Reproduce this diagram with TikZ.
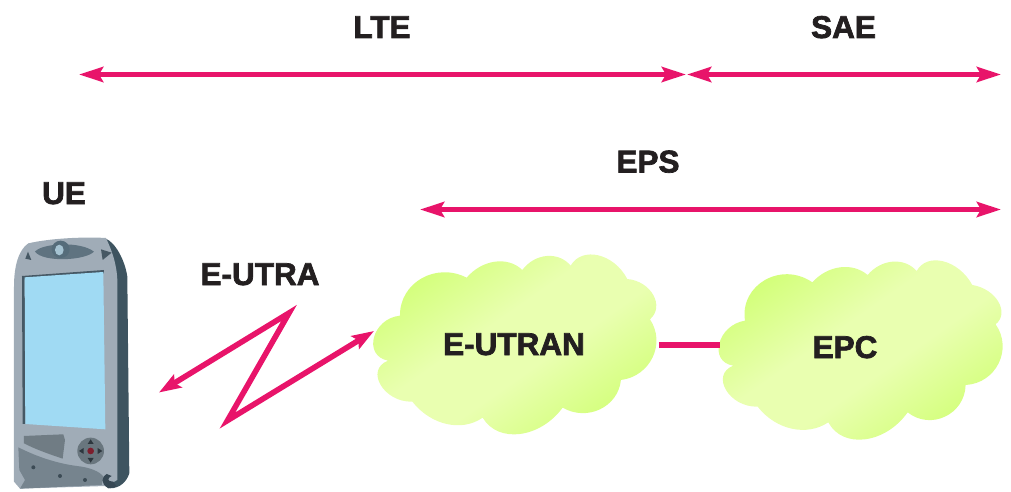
\documentclass[tikz,border=0pt]{standalone}
\usepackage{fontspec}
\usetikzlibrary{arrows.meta}
\newfontfamily\labfont[BoldFeatures={FakeBold=2.2}]{Liberation Sans}
\definecolor{pinkline}{HTML}{E8146A}
\definecolor{labink}{HTML}{231F20}
\definecolor{clouddk}{HTML}{D2FF78}
\definecolor{cloudlt}{HTML}{E9FFB0}
\pgfdeclareverticalshading{cloudshade}{100bp}{color(0bp)=(clouddk); color(26bp)=(clouddk); color(44bp)=(cloudlt); color(56bp)=(cloudlt); color(74bp)=(clouddk); color(100bp)=(clouddk)}
% fraction of the chord by which the control points lean forward, for a round arc
\def\frc#1#2#3#4#5#6{((1-4*(((#3-(#1+#5)/2)/100)^2+((#4-(#2+#6)/2)/100)^2)/(((#1-#5)/100)^2+((#2-#6)/100)^2))/3)}
% bump: from (x0,y0) through (mx,my) to (x3,y3)
\def\bmp#1#2#3#4#5#6{.. controls ({#1+1.3333*(#3-(#1+#5)/2)+\frc{#1}{#2}{#3}{#4}{#5}{#6}*(#5-#1)},{#2+1.3333*(#4-(#2+#6)/2)+\frc{#1}{#2}{#3}{#4}{#5}{#6}*(#6-#2)}) and ({#5+1.3333*(#3-(#1+#5)/2)+\frc{#1}{#2}{#3}{#4}{#5}{#6}*(#1-#5)},{#6+1.3333*(#4-(#2+#6)/2)+\frc{#1}{#2}{#3}{#4}{#5}{#6}*(#2-#6)}) .. (#5,#6)}
\tikzset{
  lab/.style={font=\labfont\bfseries\fontsize{31.5}{32}\selectfont,text=labink,inner sep=0pt,anchor=base},
  span/.style={draw=pinkline,line width=5.8pt,{Stealth[length=24pt,width=15pt,inset=4pt]}-{Stealth[length=24pt,width=15pt,inset=4pt]}},
  bolt/.style={draw=pinkline,line width=5.6pt,line join=miter,miter limit=12,{Stealth[length=22pt,width=15pt,inset=4pt]}-{Stealth[length=22pt,width=15pt,inset=4pt]}},
  link/.style={draw=pinkline,line width=5.4pt},
  cloudfill/.style={shading=cloudshade,shading angle=35}
}
\begin{document}
\begin{tikzpicture}[x=1pt,y=-1pt]
\useasboundingbox (0,0) rectangle (1011,492);
% phone
\begin{scope}[shift={(0,220)},x=0.3333pt,y=-0.3333pt]
  \fill[fill={rgb,255:red,62;green,84;blue,96}] (315,55) .. controls (345,65) and (375,120) .. (382,170) -- (388,760) .. controls (380,785) and (360,805) .. (330,805) -- (300,790) -- cycle;
  \fill[fill={rgb,255:red,160;green,172;blue,183}] (85,70) .. controls (150,55) and (250,50) .. (318,54) .. controls (335,90) and (350,130) .. (352,180) -- (352,780) -- (320,798) -- (60,806) -- (42,785) -- (42,200) .. controls (42,140) and (55,90) .. (85,70) -- cycle;
  \fill[fill={rgb,255:red,70;green,88;blue,100}] (66,168) -- (312,150) -- (312,160) -- (74,178) -- (76,612) -- (68,612) -- cycle;
  \fill[fill={rgb,255:red,160;green,218;blue,243}] (74,172) -- (310,156) -- (316,628) -- (76,612) -- cycle;
  \fill[fill={rgb,255:red,95;green,115;blue,128}] (105,95) .. controls (125,70) and (240,62) .. (282,95) .. controls (255,122) and (130,128) .. (105,95) -- cycle;
  \fill[fill={rgb,255:red,85;green,108;blue,122}] (182,88) ellipse [x radius=27,y radius=26];
  \fill[fill={rgb,255:red,165;green,195;blue,210}] (178,90) ellipse [x radius=13,y radius=16];
  \fill[fill={rgb,255:red,70;green,88;blue,100}] (84,95) -- (94,120) -- (76,116) -- cycle;
  \fill[fill={rgb,255:red,70;green,88;blue,100}] (303,88) -- (335,98) -- (308,120) -- cycle;
  \fill[fill={rgb,255:red,112;green,124;blue,132}] (72,648) -- (190,643) -- (195,660) -- (188,716) .. controls (140,700) and (100,685) .. (72,670) -- cycle;
  \fill[fill={rgb,255:red,118;green,132;blue,142}] (55,682) .. controls (110,710) and (170,730) .. (230,738) .. controls (270,742) and (300,755) .. (310,770) -- (305,795) -- (60,806) -- (75,780) -- (58,750) -- cycle;
  \fill[fill={rgb,255:red,105;green,118;blue,126}] (272,693) ellipse [x radius=40,y radius=40];
  \fill[fill={rgb,255:red,125;green,30;blue,45}] (272,693) circle [radius=10];
  \fill[fill={rgb,255:red,45;green,55;blue,62}] (272,658) -- (281,672) -- (263,672) -- cycle
    (272,728) -- (281,714) -- (263,714) -- cycle
    (237,693) -- (251,684) -- (251,702) -- cycle
    (307,693) -- (293,684) -- (293,702) -- cycle;
  \fill[fill={rgb,255:red,60;green,75;blue,85}] (100,742) circle [radius=6] (180,768) circle [radius=6] (255,780) circle [radius=6];
  \fill[fill={rgb,255:red,55;green,72;blue,84}] (320,762) .. controls (305,770) and (300,790) .. (325,805) -- (350,800) -- (340,785) .. controls (322,785) and (320,775) .. (335,768) -- cycle;
\end{scope}
% E-UTRAN cloud
\begin{scope}[shift={(150,250)},x=0.3333pt,y=-0.3333pt]
  \path[cloudfill] (950,83) \bmp{950}{83}{1035}{35}{1117}{60} \bmp{1117}{60}{1190}{18}{1262}{47} \bmp{1262}{47}{1345}{16}{1432}{87} \bmp{1432}{87}{1510}{135}{1500}{208} \bmp{1500}{208}{1508}{322}{1413}{390} \bmp{1413}{390}{1350}{478}{1238}{473} \bmp{1238}{473}{1110}{552}{998}{503} \bmp{998}{503}{890}{522}{787}{455} \bmp{787}{455}{692}{405}{714}{332} \bmp{714}{332}{672}{262}{750}{197} \bmp{750}{197}{815}{85}{950}{83} -- cycle;
\end{scope}
% EPC cloud
\begin{scope}[shift={(650,190)},x=0.3333pt,y=-0.3333pt]
  \path[cloudfill] (487,277) \bmp{487}{277}{570}{232}{653}{255} \bmp{653}{255}{728}{215}{800}{243} \bmp{800}{243}{880}{214}{967}{285} \bmp{967}{285}{1045}{335}{1037}{403} \bmp{1037}{403}{1046}{520}{947}{585} \bmp{947}{585}{885}{680}{773}{667} \bmp{773}{667}{645}{748}{535}{697} \bmp{535}{697}{425}{716}{323}{650} \bmp{323}{650}{228}{600}{250}{527} \bmp{250}{527}{208}{460}{285}{392} \bmp{285}{392}{345}{270}{487}{277} -- cycle;
\end{scope}
% labels
\node[lab] (lte) at (382,38) {LTE};
\node[lab] (sae) at (843.5,38) {SAE};
\node[lab] (eps) at (648,172.5) {EPS};
\node[lab] (ue) at (64,204) {UE};
\node[lab] (eutra) at (260,285) {E-UTRA};
\node[lab] (eutran) at (514,355) {E-UTRAN};
\node[lab] (epc) at (845,358) {EPC};
% anchors for connectors
\coordinate (lteW) at (79,74.5);
\coordinate (lteE) at (686,74.5);
\coordinate (saeW) at (687,74.5);
\coordinate (saeE) at (1001,74.5);
\coordinate (epsW) at (420,209.5);
\coordinate (epsE) at (1001,209.5);
\coordinate (boltA) at (159,392.5);
\coordinate (boltB) at (289,313);
\coordinate (boltC) at (227.5,420.5);
\coordinate (boltD) at (374,331);
\coordinate (utranE) at (659,345);
\coordinate (epcW) at (720,345);
\draw[span] (lteW) -- (lteE);
\draw[span] (saeW) -- (saeE);
\draw[span] (epsW) -- (epsE);
\draw[bolt] (boltA) -- (boltB) -- (boltC) -- (boltD);
\draw[link] (utranE) -- (epcW);
\end{tikzpicture}
\end{document}
